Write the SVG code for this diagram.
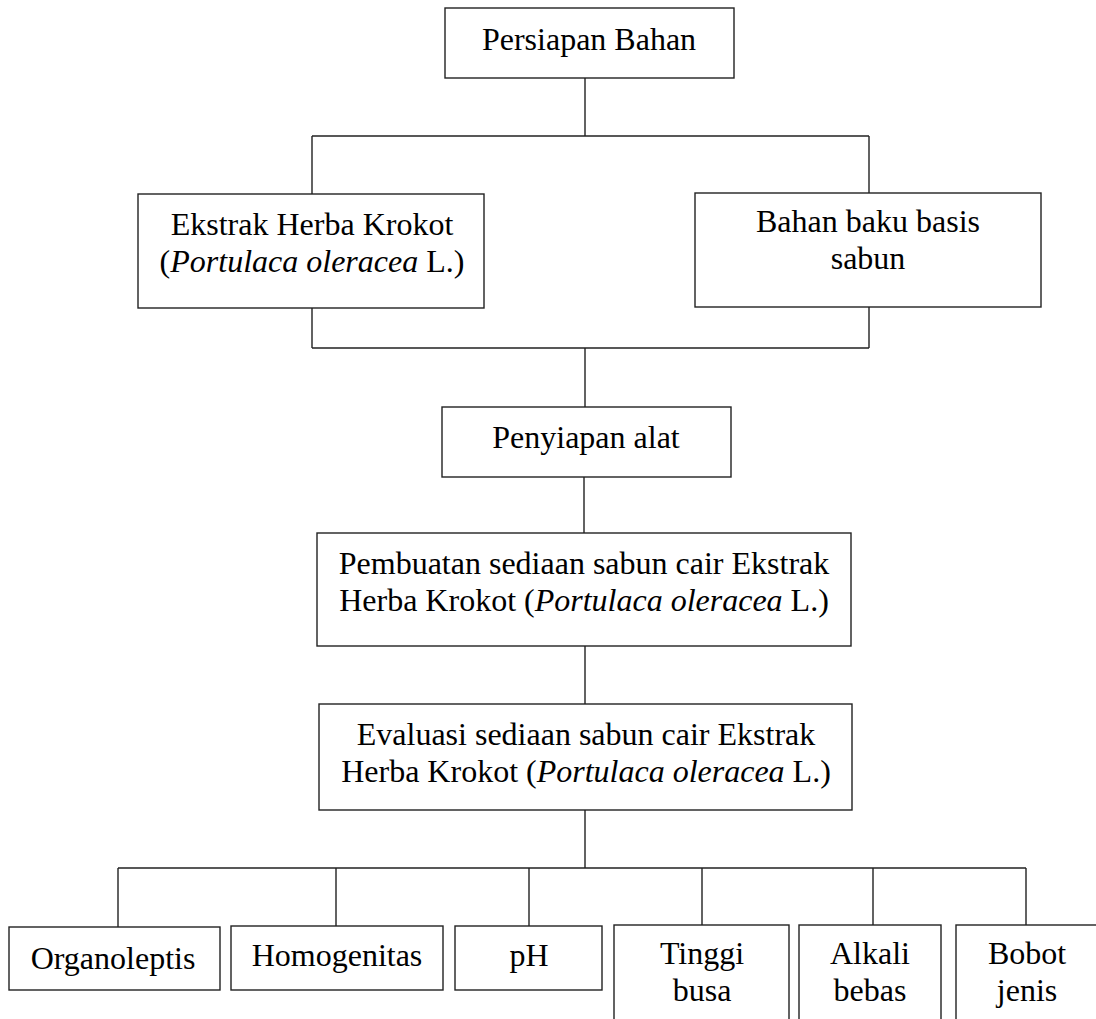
<svg xmlns="http://www.w3.org/2000/svg" width="1096" height="1019" viewBox="0 0 1096 1019">
<style>
.box{fill:#fff;stroke:#222;stroke-width:1.4}
.ln{fill:none;stroke:#222;stroke-width:1.4}
text{font-family:"Liberation Serif","Times New Roman",serif;font-size:32px;fill:#000;text-anchor:middle}
.it{font-style:italic}
</style>
<rect width="1096" height="1019" fill="#fff"/>
<g id="connectors">
<path class="ln" d="M585 78V136M312 136H869M312 136V194M869 136V193"/>
<path class="ln" d="M312 308V348M869 307V348M312 348H869M585 348V407"/>
<path class="ln" d="M584 477V533M585 646V704M585 810V868"/>
<path class="ln" d="M118 868H1026M118 868V927M336 868V926M529 868V926M702 868V925M873 868V925M1026 868V925"/>
</g>
<g id="persiapan"><rect class="box" x="445" y="8" width="289" height="70"/><text x="589" y="50">Persiapan Bahan</text></g>
<g id="ekstrak"><rect class="box" x="138" y="194" width="346" height="114"/><text x="312" y="235">Ekstrak Herba Krokot</text><text x="312" y="272">(<tspan class="it">Portulaca oleracea</tspan> L.)</text></g>
<g id="bahanbaku"><rect class="box" x="695" y="193" width="346" height="114"/><text x="868" y="232">Bahan baku basis</text><text x="868" y="269">sabun</text></g>
<g id="penyiapan"><rect class="box" x="442" y="407" width="289" height="70"/><text x="586" y="448">Penyiapan alat</text></g>
<g id="pembuatan"><rect class="box" x="317" y="533" width="534" height="113"/><text x="584" y="574">Pembuatan sediaan sabun cair Ekstrak</text><text x="584" y="611">Herba Krokot (<tspan class="it">Portulaca oleracea</tspan> L.)</text></g>
<g id="evaluasi"><rect class="box" x="319" y="704" width="533" height="106"/><text x="586" y="745">Evaluasi sediaan sabun cair Ekstrak</text><text x="586" y="782">Herba Krokot (<tspan class="it">Portulaca oleracea</tspan> L.)</text></g>
<g id="organoleptis"><rect class="box" x="9" y="927" width="211" height="63"/><text x="113" y="969">Organoleptis</text></g>
<g id="homogenitas"><rect class="box" x="231" y="926" width="212" height="64"/><text x="337" y="966">Homogenitas</text></g>
<g id="ph"><rect class="box" x="455" y="926" width="147" height="64"/><text x="529" y="966">pH</text></g>
<g id="tinggi"><rect class="box" x="614" y="925" width="175" height="110"/><text x="702" y="964">Tinggi</text><text x="702" y="1001">busa</text></g>
<g id="alkali"><rect class="box" x="799" y="925" width="142" height="110"/><text x="870" y="964">Alkali</text><text x="870" y="1001">bebas</text></g>
<g id="bobot"><rect class="box" x="956" y="925" width="142" height="110"/><text x="1027" y="964">Bobot</text><text x="1027" y="1001">jenis</text></g>
</svg>
